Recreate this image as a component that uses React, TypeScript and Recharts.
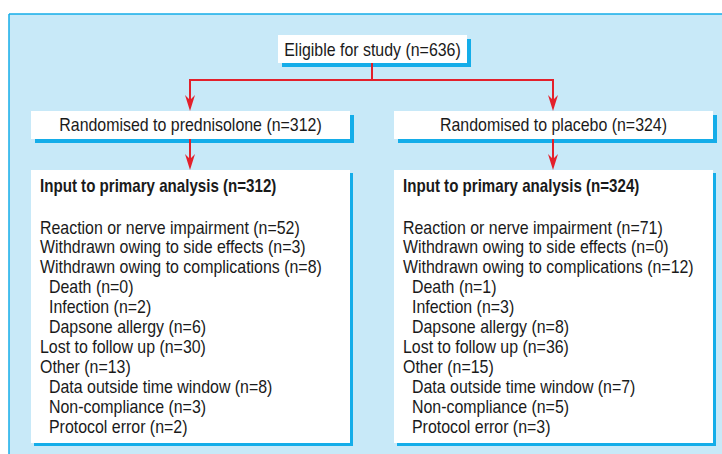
import {
  ComposedChart,
  ReferenceArea,
  ReferenceDot,
  ReferenceLine,
  Scatter,
  XAxis,
  YAxis,
} from 'recharts';

// counts (prednisolone, placebo)
const eligibleLabel = 'Eligible for study';
const eligibleN = 636;
const armNames = ['prednisolone', 'placebo'];
const randomisedN = [312, 324];
const reactionN = [52, 71];
const sideEffectsN = [3, 0];
const complicationsN = [8, 12];
const deathN = [0, 1];
const infectionN = [2, 3];
const dapsoneN = [6, 8];
const lostN = [30, 36];
const otherN = [13, 15];
const outsideWindowN = [8, 7];
const nonComplianceN = [3, 5];
const protocolErrorN = [2, 3];

const detailLabels = [
  'Reaction or nerve impairment',
  'Withdrawn owing to side effects',
  'Withdrawn owing to complications',
  'Death',
  'Infection',
  'Dapsone allergy',
  'Lost to follow up',
  'Other',
  'Data outside time window',
  'Non-compliance',
  'Protocol error',
];
const detailCounts = [
  reactionN,
  sideEffectsN,
  complicationsN,
  deathN,
  infectionN,
  dapsoneN,
  lostN,
  otherN,
  outsideWindowN,
  nonComplianceN,
  protocolErrorN,
];
const detailIndent = [false, false, false, true, true, true, false, false, true, true, true];

// layout of the diagram, in page pixels
const W = 722;
const H = 454;
const FONT = "'Liberation Sans', Arial, sans-serif";
const BLUE = '#14ade9';
const PANEL = '#c8e9f8';
const RED = '#e3202b';

const rootBox = { x1: 278, x2: 467, y1: 35, y2: 63, shadow: 4 };
const armBoxes = [
  { x1: 31, x2: 350, y1: 111, y2: 139, shadow: 4 },
  { x1: 394, x2: 713, y1: 111, y2: 139, shadow: 4 },
];
const detailBoxes = [
  { x1: 31, x2: 350, y1: 170, y2: 443, shadow: 3 },
  { x1: 394, x2: 713, y1: 170, y2: 443, shadow: 3 },
];
const splitY = 80;
const armX = [190, 553];
const rootX = 372;

const arrowTips = [
  { x: armX[0], y: armBoxes[0].y1 },
  { x: armX[1], y: armBoxes[1].y1 },
  { x: armX[0], y: detailBoxes[0].y1 },
  { x: armX[1], y: detailBoxes[1].y1 },
];

const ArrowHead = (props: any) => {
  const { cx, cy } = props;
  return (
    <path
      d={`M${cx},${cy} L${cx - 5},${cy - 16} L${cx},${cy - 11} L${cx + 5},${cy - 16} Z`}
      fill={RED}
    />
  );
};

const label =
  (text: string, opts: { anchor?: string; bold?: boolean } = {}) =>
  (p: any) => (
    <text
      transform={`translate(${p.cx},${p.cy}) scale(${opts.bold ? 0.84 : 0.885},1)`}
      x={0}
      y={0}
      textAnchor={opts.anchor ?? 'middle'}
      fontFamily={FONT}
      fontSize={18}
      fontWeight={opts.bold ? 700 : 400}
      fill="#1a1a1a"
    >
      {text}
    </text>
  );

export default function App() {
  const boxes = [rootBox, ...armBoxes, ...detailBoxes];
  return (
    <div style={{ position: 'absolute', left: 0, top: 0, width: W, height: H, background: '#fff' }}>
      <ComposedChart width={W} height={H} margin={{ top: 0, right: 0, bottom: 0, left: 0 }}>
        <XAxis type="number" dataKey="x" domain={[0, W]} hide allowDataOverflow />
        <YAxis type="number" dataKey="y" domain={[0, H]} reversed hide allowDataOverflow />

        {/* background panel */}
        <ReferenceArea x1={9} x2={W} y1={14} y2={H} fill={PANEL} fillOpacity={1} stroke="none" />
        <ReferenceLine segment={[{ x: 9, y: 14 }, { x: W, y: 14 }]} stroke={BLUE} strokeWidth={1.5} />
        <ReferenceLine segment={[{ x: 9, y: 14 }, { x: 9, y: H }]} stroke={BLUE} strokeWidth={1.5} />

        {/* box shadows then boxes */}
        {boxes.map((b, i) => (
          <ReferenceArea
            key={`s${i}`}
            x1={b.x1 + b.shadow}
            x2={b.x2 + b.shadow}
            y1={b.y1 + b.shadow}
            y2={b.y2 + b.shadow}
            fill={BLUE}
            fillOpacity={1}
            stroke="none"
          />
        ))}
        {boxes.map((b, i) => (
          <ReferenceArea
            key={`b${i}`}
            x1={b.x1}
            x2={b.x2}
            y1={b.y1}
            y2={b.y2}
            fill="#fff"
            fillOpacity={1}
            stroke="none"
          />
        ))}

        {/* connectors */}
        <ReferenceLine segment={[{ x: rootX, y: rootBox.y2 }, { x: rootX, y: splitY }]} stroke={RED} strokeWidth={2} />
        <ReferenceLine segment={[{ x: armX[0] - 1, y: splitY }, { x: armX[1] + 1, y: splitY }]} stroke={RED} strokeWidth={2} />
        {armX.map((x, i) => (
          <ReferenceLine key={`c${i}`} segment={[{ x, y: splitY }, { x, y: armBoxes[i].y1 - 8 }]} stroke={RED} strokeWidth={2} />
        ))}
        {armX.map((x, i) => (
          <ReferenceLine key={`d${i}`} segment={[{ x, y: armBoxes[i].y2 }, { x, y: detailBoxes[i].y1 - 8 }]} stroke={RED} strokeWidth={2} />
        ))}
        <Scatter data={arrowTips} shape={<ArrowHead />} isAnimationActive={false} />

        {/* texts (y = baseline) */}
        <ReferenceDot
          x={(rootBox.x1 + rootBox.x2) / 2}
          y={55.5}
          r={0}
          shape={label(`${eligibleLabel} (n=${eligibleN})`)}
        />
        {armBoxes.map((b, i) => (
          <ReferenceDot
            key={`a${i}`}
            x={(b.x1 + b.x2) / 2}
            y={131}
            r={0}
            shape={label(`Randomised to ${armNames[i]} (n=${randomisedN[i]})`)}
          />
        ))}
        {detailBoxes.map((b, i) => (
          <ReferenceDot
            key={`h${i}`}
            x={b.x1 + 9}
            y={191.5}
            r={0}
            shape={label(`Input to primary analysis (n=${randomisedN[i]})`, { anchor: 'start', bold: true })}
          />
        ))}
        {detailBoxes.map((b, i) =>
          detailLabels.map((lab, j) => (
            <ReferenceDot
              key={`r${i}-${j}`}
              x={b.x1 + (detailIndent[j] ? 18 : 9)}
              y={233.5 + j * 19.9}
              r={0}
              shape={label(`${lab} (n=${detailCounts[j][i]})`, { anchor: 'start' })}
            />
          )),
        )}
      </ComposedChart>
    </div>
  );
}
